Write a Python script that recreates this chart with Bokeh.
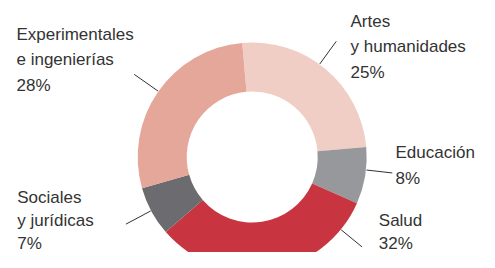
import math
from bokeh.plotting import figure
from bokeh.models import ColumnDataSource
from bokeh.embed import file_html
from bokeh.resources import INLINE
from bokeh.core.properties import value

# ---- data ----
categories = ["Artes\ny humanidades", "Educación", "Salud", "Sociales\ny jurídicas", "Experimentales\ne ingenierías"]
shares = [25, 8, 32, 7, 28]
colors = ["#f1cec5", "#97989c", "#c83541", "#6c6c70", "#e5a799"]

# ---- layout ----
W, H = 479, 252
CX, CY = 251.7, 95.5
R_IN, R_OUT = 65.5, 114.5
START_DEG = 95.0
label_anchor = [(350, 231.5), (395, 100.3), (378.3, 32.5), (16.7, 55.0), (16.0, 218.5)]
label_line_h = [25.5, 26.5, 23.5, 23.0, 25.5]
leader_deg = [54, -6.5, -39.3, -152, 145]
leader_r = [(115, 143), (115, 141), (115, 142), (115, 143), (115, 144)]

p = figure(width=W, height=H, x_range=(0, W), y_range=(0, H),
           output_backend="svg", toolbar_location=None, min_border=0)
p.axis.visible = False
p.grid.visible = False
p.outline_line_color = None
p.background_fill_color = "white"
p.border_fill_color = "white"

total = sum(shares)
starts, ends = [], []
cum = 0
for s in shares:
    a0 = START_DEG - cum / total * 360.0
    cum += s
    a1 = START_DEG - cum / total * 360.0
    starts.append(math.radians(a1))
    ends.append(math.radians(a0))

src = ColumnDataSource(dict(x=[CX] * len(shares), y=[CY] * len(shares),
                            start=starts, end=ends, color=colors))
p.annular_wedge(x="x", y="y", inner_radius=R_IN, outer_radius=R_OUT,
                start_angle="start", end_angle="end", fill_color="color",
                line_color=None, source=src)

# leader lines
xs, ys = [], []
for ang, (r0, r1) in zip(leader_deg, leader_r):
    a = math.radians(ang)
    xs.append([CX + r0 * math.cos(a), CX + r1 * math.cos(a)])
    ys.append([CY + r0 * math.sin(a), CY + r1 * math.sin(a)])
p.multi_line(xs=xs, ys=ys, line_color="#333333", line_width=1)

# labels
tx, ty, tt = [], [], []
for cat, s, (ax, ay), lh in zip(categories, shares, label_anchor, label_line_h):
    lines = cat.split("\n") + [f"{s}%"]
    for i, ln in enumerate(lines):
        tx.append(ax)
        ty.append(ay - i * lh)
        tt.append(ln)
p.text(x=tx, y=ty, text=tt, text_font=value("Liberation Sans"), text_font_size="17px",
       text_color="#333333", text_baseline="alphabetic", text_align="left")

open("out.html", "w").write(file_html(p, INLINE))
